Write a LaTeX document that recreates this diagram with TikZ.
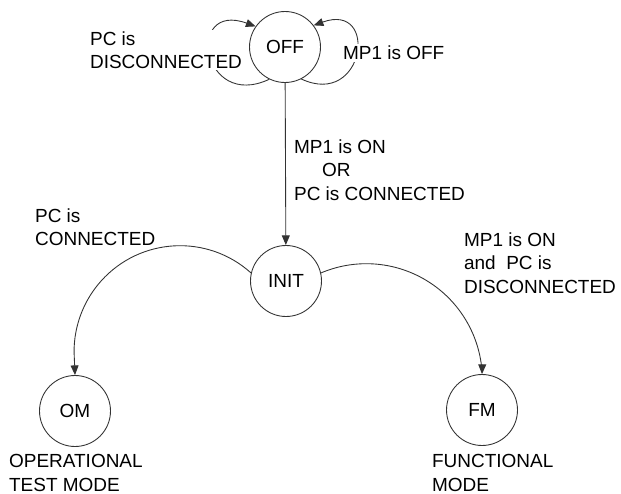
\documentclass[tikz,border=0pt]{standalone}
\usepackage{fontspec}
\setmainfont{Liberation Sans}
\usetikzlibrary{arrows.meta}

\begin{document}
\begin{tikzpicture}[x=0.02cm,y=0.02cm,
  font=\fontsize{10.8}{13.3}\selectfont,
  state/.style={circle,draw=black!80,line width=0.5pt,minimum size=1.42cm,inner sep=0pt},
  lbl/.style={anchor=west,align=left,fill=white,inner sep=1pt},
  tr/.style={draw=black!80,line width=0.5pt,-{Triangle[length=5.5pt,width=4.5pt]}}]
 \useasboundingbox (0,0) rectangle (621,-493);
 \node[state] (off) at (285,-47) {OFF};
 \node[state] (init) at (286,-281) {INIT};
 \node[state] (om) at (75,-411) {OM};
 \node[state] (fm) at (482,-410) {FM};
 \draw[tr] (off.244) .. controls +(205:75) and +(160:75) .. (off.145);
 \draw[tr] (off.297) .. controls +(-25:70) and +(20:70) .. (off.37);
 \draw[tr] (off) -- (init);
 \draw[tr] (init.167) arc[start angle=48,end angle=180,radius=106] -- (om.north);
 \draw[tr] (init.13) arc[start angle=113,end angle=4,radius=116] -- (fm.north);
 \node[lbl] (disc) at (88,-50) {PC is\\DISCONNECTED};
 \node[lbl] (mpoff) at (341,-53) {MP1 is OFF};
 \node[lbl] (onor) at (292,-170) {MP1 is ON\\\hspace*{16pt}OR\\PC is CONNECTED};
 \node[lbl] (pccon) at (33,-227) {PC is\\CONNECTED};
 \node[lbl] (onand) at (462,-263) {MP1 is ON\\and\ \ PC is\\DISCONNECTED};
 \node[lbl] (optm) at (7,-473) {OPERATIONAL\\TEST MODE};
 \node[lbl] (fnm) at (430,-473) {FUNCTIONAL\\MODE};
\end{tikzpicture}
\end{document}
